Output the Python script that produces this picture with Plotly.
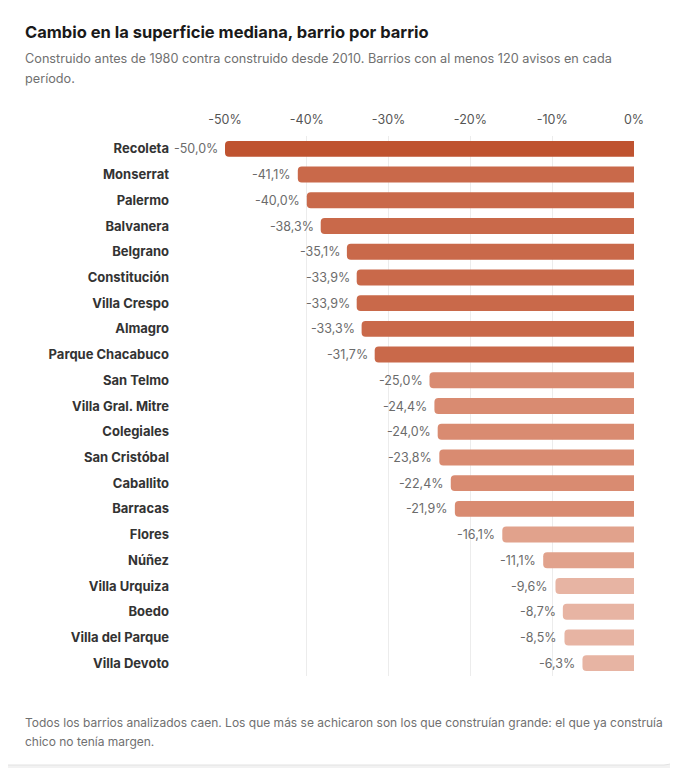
import plotly.graph_objects as go

# Datos
barrios = [
    "Recoleta", "Monserrat", "Palermo", "Balvanera", "Belgrano", "Constitución",
    "Villa Crespo", "Almagro", "Parque Chacabuco", "San Telmo", "Villa Gral. Mitre",
    "Colegiales", "San Cristóbal", "Caballito", "Barracas", "Flores", "Núñez",
    "Villa Urquiza", "Boedo", "Villa del Parque", "Villa Devoto",
]
cambio = [
    -50.0, -41.1, -40.0, -38.3, -35.1, -33.9,
    -33.9, -33.3, -31.7, -25.0, -24.4,
    -24.0, -23.8, -22.4, -21.9, -16.1, -11.1,
    -9.6, -8.7, -8.5, -6.3,
]
tick_vals = [-50, -40, -30, -20, -10, 0]
tick_text = ["-50%", "-40%", "-30%", "-20%", "-10%", "0%"]

titulo = "Cambio en la superficie mediana, barrio por barrio"
subtitulo = ["Construido antes de 1980 contra construido desde 2010. Barrios con al menos 120 avisos en cada",
             "período."]
nota = ["Todos los barrios analizados caen. Los que más se achicaron son los que construían grande: el que ya construía",
        "chico no tenía margen."]

# la página deja 8px de margen arriba y a la izquierda
OFF = 8
W, H = 678 - OFF, 768 - OFF
ML, MR, MT, MB = 225 - OFF, 44, 136 - OFF, 92
PW, PH = W - ML - MR, H - MT - MB


def px_x(px):
    return (px - OFF - ML) / PW


def px_y(py):
    return (H - MB - (py - OFF)) / PH


def color_for(v):
    if v <= -45:
        return "#BF5330"
    if v <= -30:
        return "#C9694A"
    if v <= -20:
        return "#D98B71"
    if v <= -10:
        return "#E1A28C"
    return "#E7B4A3"


def fmt(v):
    return f"{v:.1f}".replace(".", ",") + "%"


fig = go.Figure()
fig.add_trace(go.Bar(
    x=cambio,
    y=barrios,
    orientation="h",
    marker=dict(color=[color_for(v) for v in cambio], cornerradius=4, line=dict(width=0)),
    cliponaxis=False,
    hoverinfo="skip",
))

# tarjeta con borde redondeado
x0, x1, y0, y1, r = px_x(-6), px_x(676), px_y(765), px_y(2), 12
rx, ry = r / PW, r / PH
card = (
    f"M {x0 + rx} {y1} L {x1 - rx} {y1} Q {x1} {y1} {x1} {y1 - ry} "
    f"L {x1} {y0 + ry} Q {x1} {y0} {x1 - rx} {y0} "
    f"L {x0 + rx} {y0} Q {x0} {y0} {x0} {y0 + ry} "
    f"L {x0} {y1 - ry} Q {x0} {y1} {x0 + rx} {y1} Z"
)

annotations = [
    dict(text=f"<b>{titulo}</b>", xref="paper", yref="paper", x=px_x(23), y=px_y(32),
         xanchor="left", yanchor="middle", showarrow=False,
         font=dict(family="Inter", size=16.5, color="#1a1a1a")),
]
for i, linea in enumerate(subtitulo):
    annotations.append(dict(text=linea, xref="paper", yref="paper", x=px_x(23), y=px_y(58 + 20 * i),
                            xanchor="left", yanchor="middle", showarrow=False,
                            font=dict(family="Inter", size=12.7, color="#707070")))
for i, linea in enumerate(nota):
    annotations.append(dict(text=linea, xref="paper", yref="paper", x=px_x(23), y=px_y(722 + 19 * i),
                            xanchor="left", yanchor="middle", showarrow=False,
                            font=dict(family="Inter", size=12, color="#707070")))
# etiquetas de valor a la izquierda de cada barra
for b, v in zip(barrios, cambio):
    annotations.append(dict(text=fmt(v), x=v, y=b, xref="x", yref="y",
                            xanchor="right", yanchor="middle", xshift=-5, showarrow=False,
                            font=dict(family="Inter", size=12.5, color="#6b6b6b")))

fig.update_layout(
    width=W, height=H,
    margin=dict(l=ML, r=MR, t=MT, b=MB),
    paper_bgcolor="#f2f2f2",
    plot_bgcolor="rgba(0,0,0,0)",
    showlegend=False,
    bargap=0.38,
    font=dict(family="Inter", color="#333"),
    shapes=[dict(type="path", path=card, xref="paper", yref="paper",
                 fillcolor="white", line=dict(color="#e2e2e2", width=1), layer="below")],
    xaxis=dict(
        side="top", range=[-50, 0], tickvals=tick_vals, ticktext=tick_text,
        showgrid=True, gridcolor="#ececec", gridwidth=1, zeroline=False,
        showline=False, ticks="", ticklabelstandoff=9,
        tickfont=dict(family="Inter", size=12.5, color="#555"),
        fixedrange=True,
    ),
    yaxis=dict(
        categoryorder="array", categoryarray=barrios, autorange="reversed",
        showgrid=False, zeroline=False, ticks="", ticklabelstandoff=55,
        tickfont=dict(family="Inter", size=13, color="#333", weight="bold"),
        fixedrange=True,
    ),
    annotations=annotations,
)

fig.write_html("out.html")
